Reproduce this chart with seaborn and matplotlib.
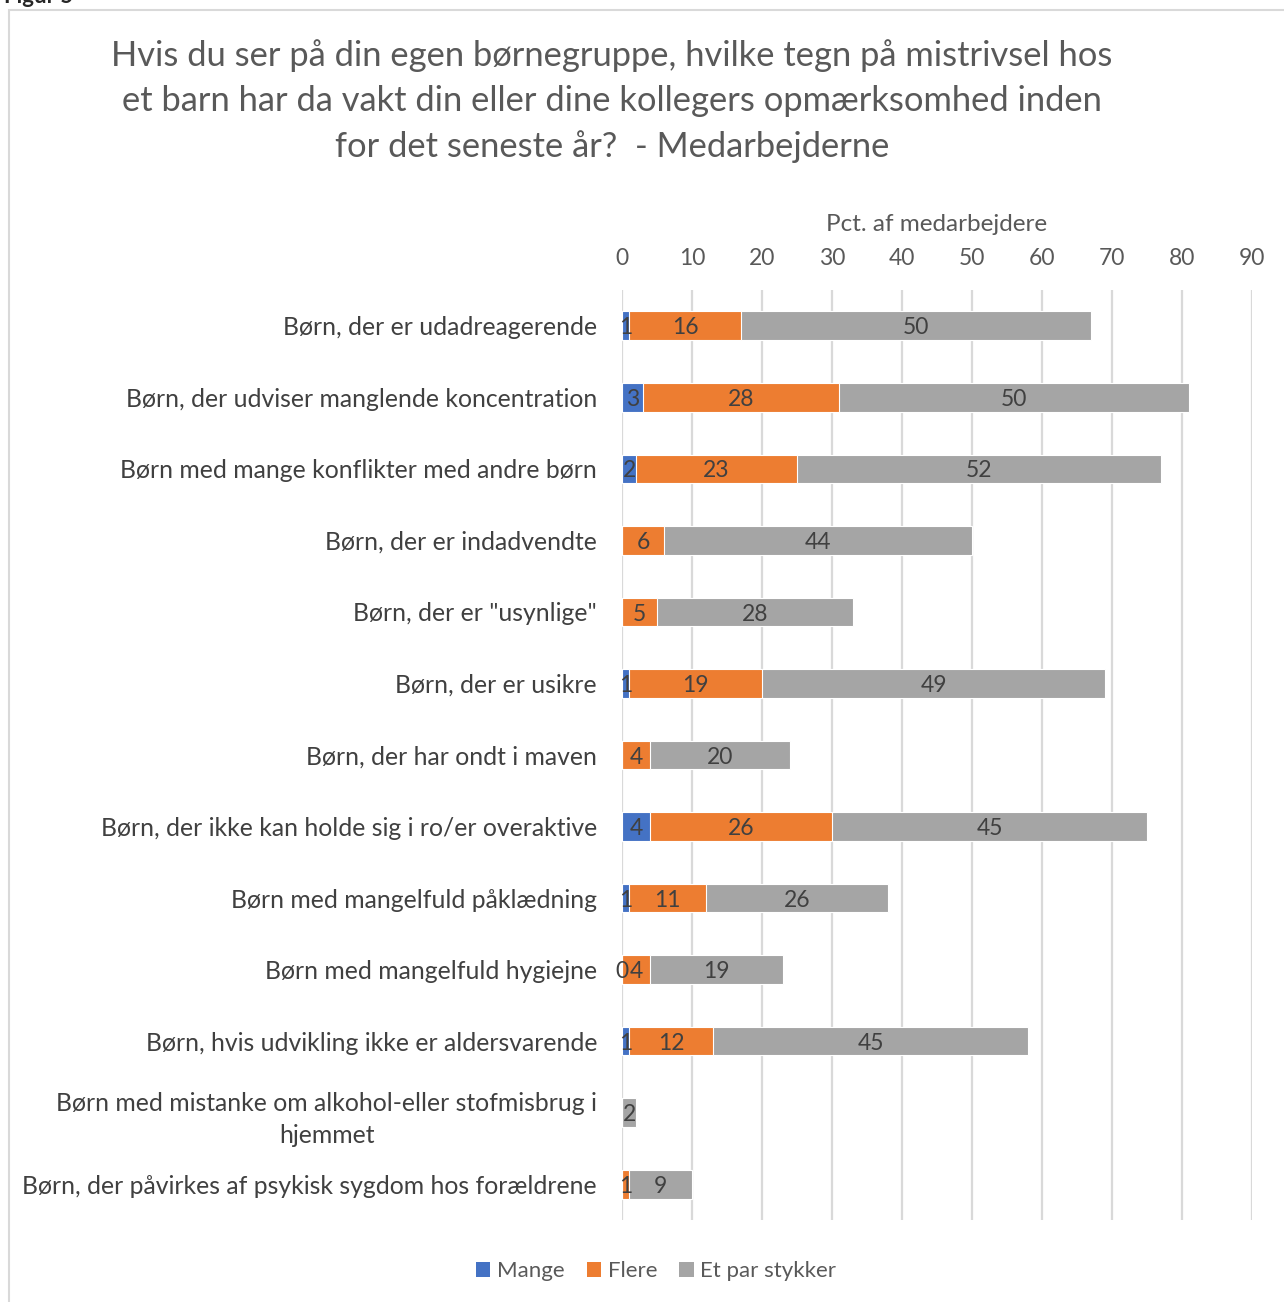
import matplotlib
matplotlib.use("Agg")
import matplotlib.pyplot as plt
import seaborn as sns
import pandas as pd
import numpy as np
from matplotlib.patches import Patch, Rectangle

# Data (pct. af medarbejdere)
categories = [
    "Børn, der er udadreagerende",
    "Børn, der udviser manglende koncentration",
    "Børn med mange konflikter med andre børn",
    "Børn, der er indadvendte",
    "Børn, der er \"usynlige\"",
    "Børn, der er usikre",
    "Børn, der har ondt i maven",
    "Børn, der ikke kan holde sig i ro/er overaktive",
    "Børn med mangelfuld påklædning",
    "Børn med mangelfuld hygiejne",
    "Børn, hvis udvikling ikke er aldersvarende",
    "Børn med mistanke om alkohol-eller stofmisbrug i\nhjemmet",
    "Børn, der påvirkes af psykisk sygdom hos forældrene",
]
mange = [1, 3, 2, None, None, 1, None, 4, 1, 0, 1, None, None]
flere = [16, 28, 23, 6, 5, 19, 4, 26, 11, 4, 12, None, 1]
et_par = [50, 50, 52, 44, 28, 49, 20, 45, 26, 19, 45, 2, 9]

series_names = ["Mange", "Flere", "Et par stykker"]
colors = ["#4472C4", "#ED7D31", "#A5A5A5"]
x_ticks = [0, 10, 20, 30, 40, 50, 60, 70, 80, 90]

df = pd.DataFrame({"kategori": categories, "Mange": mange,
                   "Flere": flere, "Et par stykker": et_par})
vals = df[series_names].fillna(0)
cum = vals.cumsum(axis=1)
starts = cum - vals

sns.set_theme(style="white")
plt.rcParams["font.family"] = ["Lato", "DejaVu Sans"]

fig = plt.figure(figsize=(12.84, 13.02), dpi=100)
ax = fig.add_axes([622 / 1284, 1 - 1220 / 1302, 630 / 1284, 930 / 1302])

# stacked bars: draw cumulative totals, biggest first
for name, col in reversed(list(zip(series_names, colors))):
    sns.barplot(x=cum[name], y=df["kategori"], orient="h", color=col,
                width=0.4, edgecolor="white", linewidth=0.8, ax=ax,
                saturation=1)

# data labels
raw = df[series_names]
for i in range(len(df)):
    for name in series_names:
        v = raw.loc[i, name]
        if pd.isna(v):
            continue
        xc = starts.loc[i, name] + vals.loc[i, name] / 2
        ax.text(xc, i + 0.03, f"{int(v)}", ha="center", va="center",
                fontsize=16.5, color="#404040")

ax.set_xlim(0, 90)
ax.set_ylim(len(df) - 0.5, -0.5)
ax.set_xticks(x_ticks)
ax.xaxis.tick_top()
ax.xaxis.set_label_position("top")
ax.set_xlabel("Pct. af medarbejdere", fontsize=17.5, color="#595959", labelpad=12)
ax.set_ylabel("")
ax.tick_params(axis="x", length=0, pad=15, labelsize=16.5, labelcolor="#595959")
ax.tick_params(axis="y", length=0, pad=18, labelsize=17.8, labelcolor="#404040")
for lbl in ax.get_yticklabels():
    lbl.set_multialignment("center")
    lbl.set_linespacing(1.5)
ax.grid(axis="x", color="#D9D9D9", linewidth=1.6)
ax.set_axisbelow(True)
for s in ax.spines.values():
    s.set_visible(False)

# title
fig.text(612 / 1284, 1 - 101 / 1302,
         "Hvis du ser på din egen børnegruppe, hvilke tegn på mistrivsel hos\n"
         "et barn har da vakt din eller dine kollegers opmærksomhed inden\n"
         "for det seneste år?  - Medarbejderne",
         ha="center", va="center", fontsize=24.8, color="#595959",
         linespacing=1.48)

# legend
handles = [Patch(facecolor=c, edgecolor="none") for c in colors]
fig.legend(handles, series_names, loc="center", ncol=3, frameon=False,
           bbox_to_anchor=(656 / 1284, 1 - 1271 / 1302), fontsize=16,
           handlelength=0.65, handleheight=0.65, handletextpad=0.3,
           columnspacing=1.0, labelcolor="#595959")

# chart frame and cut-off figure caption
fig.patches.append(Rectangle((9 / 1284, -0.05), 1.1, 1 - 10 / 1302 + 0.05,
                             transform=fig.transFigure, fill=False,
                             edgecolor="#D9D9D9", linewidth=1.5))
fig.text(0.003, 1 - 3 / 1302, "Figur 5", ha="left", va="baseline",
         fontsize=16, fontweight="bold", color="#262626")

fig.savefig("out.png", dpi=100)
